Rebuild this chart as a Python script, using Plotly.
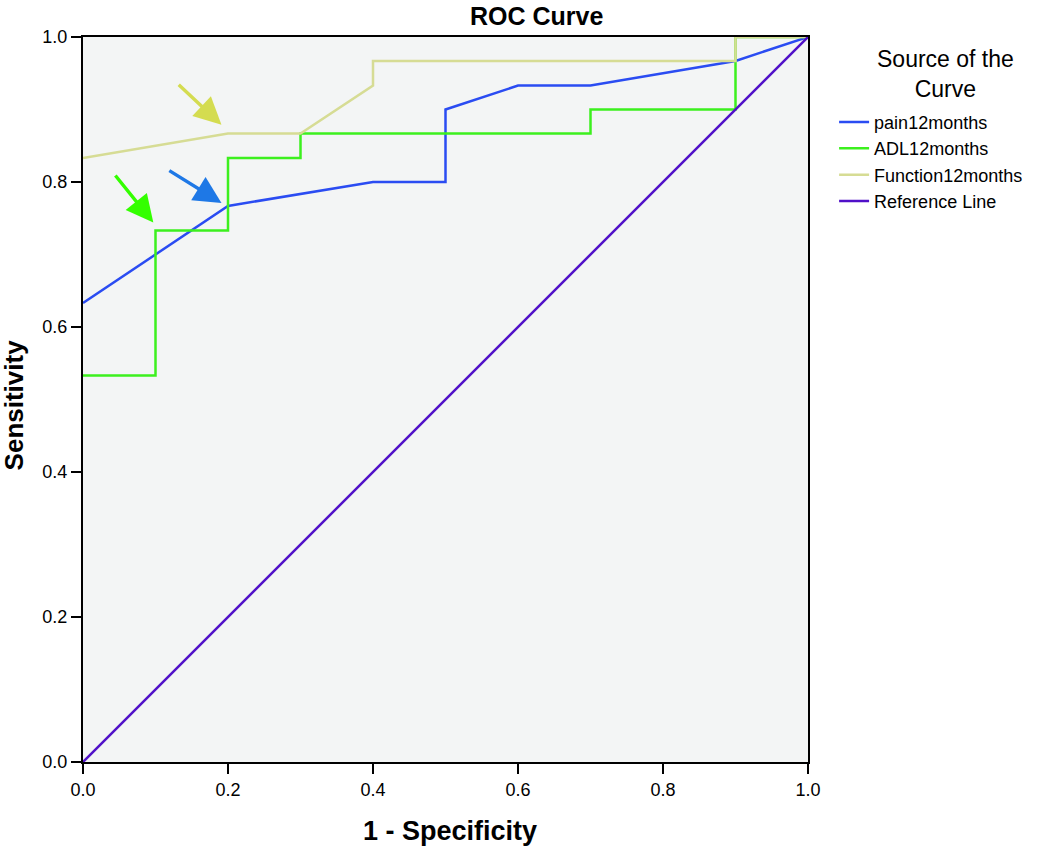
import plotly.graph_objects as go

# ROC curve data (1 - specificity, sensitivity)
pain_x = [0.0, 0.2, 0.4, 0.5, 0.5, 0.6, 0.7, 0.9, 1.0]
pain_y = [0.633, 0.767, 0.8, 0.8, 0.9, 0.933, 0.933, 0.967, 1.0]

adl_x = [0.0, 0.1, 0.1, 0.2, 0.2, 0.3, 0.3, 0.7, 0.7, 0.9, 0.9, 1.0]
adl_y = [0.533, 0.533, 0.733, 0.733, 0.833, 0.833, 0.867, 0.867, 0.9, 0.9, 1.0, 1.0]

func_x = [0.0, 0.2, 0.3, 0.4, 0.4, 0.9, 0.9, 1.0]
func_y = [0.833, 0.867, 0.867, 0.933, 0.967, 0.967, 1.0, 1.0]

ref_x = [0.0, 1.0]
ref_y = [0.0, 1.0]

series_names = ["pain12months", "ADL12months", "Function12months", "Reference Line"]
series_colors = ["#2a4cf2", "#3cf01e", "#d6dc94", "#5010c8"]

# arrows pointing at chosen cut-off points
arrow_tail_x = [0.130, 0.043, 0.117]
arrow_tail_y = [0.936, 0.811, 0.817]
arrow_head_x = [0.191, 0.097, 0.191]
arrow_head_y = [0.879, 0.744, 0.771]
arrow_colors = ["#d4dc50", "#33ff00", "#1e78e6"]

xticks = [0.0, 0.2, 0.4, 0.6, 0.8, 1.0]
yticks = [0.0, 0.2, 0.4, 0.6, 0.8, 1.0]

font = "Liberation Sans, Arial, Helvetica, sans-serif"

fig = go.Figure()
for xs, ys, name, col in zip([pain_x, adl_x, func_x, ref_x], [pain_y, adl_y, func_y, ref_y],
                             series_names, series_colors):
    fig.add_trace(go.Scatter(x=xs, y=ys, mode="lines", name=name,
                             line=dict(color=col, width=2.5)))

for tx, ty, hx, hy, c in zip(arrow_tail_x, arrow_tail_y, arrow_head_x, arrow_head_y, arrow_colors):
    fig.add_annotation(x=hx, y=hy, ax=tx, ay=ty, xref="x", yref="y", axref="x", ayref="y",
                       showarrow=True, arrowhead=2, arrowsize=1.6, arrowwidth=3.4,
                       arrowcolor=c, text="")

# titles as annotations (paper coordinates)
fig.add_annotation(text="<b>ROC Curve</b>", xref="paper", yref="paper", x=0.626, y=1.029,
                   xanchor="center", yanchor="middle", showarrow=False,
                   font=dict(family=font, size=25, color="black"))
fig.add_annotation(text="<b>1 - Specificity</b>", xref="paper", yref="paper", x=0.506, y=-0.095,
                   xanchor="center", yanchor="middle", showarrow=False,
                   font=dict(family=font, size=27, color="black"))
fig.add_annotation(text="<b>Sensitivity</b>", xref="paper", yref="paper", x=-0.095, y=0.492,
                   xanchor="center", yanchor="middle", showarrow=False, textangle=-90,
                   font=dict(family=font, size=26, color="black"))
fig.add_annotation(text="Source of the<br>Curve", xref="paper", yref="paper", x=1.189, y=0.99,
                   xanchor="center", yanchor="top", showarrow=False, align="center",
                   font=dict(family=font, size=23, color="black"))

fig.update_layout(
    width=1050, height=858,
    margin=dict(l=83, r=242, t=37, b=96, autoexpand=False),
    paper_bgcolor="white",
    plot_bgcolor="#f3f5f5",
    legend=dict(
        x=1.036, y=0.908, xanchor="left", yanchor="top",
        font=dict(family=font, size=18, color="black"),
        bgcolor="rgba(0,0,0,0)", itemwidth=30, tracegroupgap=0,
    ),
    showlegend=True,
)
fig.update_xaxes(range=[0, 1], tickvals=xticks, ticktext=[f"{v:.1f}" for v in xticks],
                 showgrid=False, zeroline=False, showline=True, linecolor="black", linewidth=2,
                 mirror=True, ticks="outside", ticklen=10, tickwidth=2, tickcolor="black",
                 tickfont=dict(family=font, size=18, color="black"), automargin=False)
fig.update_yaxes(range=[0, 1], tickvals=yticks, ticktext=[f"{v:.1f}" for v in yticks],
                 showgrid=False, zeroline=False, showline=True, linecolor="black", linewidth=2,
                 mirror=True, ticks="outside", ticklen=10, tickwidth=2, tickcolor="black",
                 tickfont=dict(family=font, size=18, color="black"), automargin=False)

fig.write_html("out.html", config={"displayModeBar": False},
               post_script="document.body.style.margin='0';")
